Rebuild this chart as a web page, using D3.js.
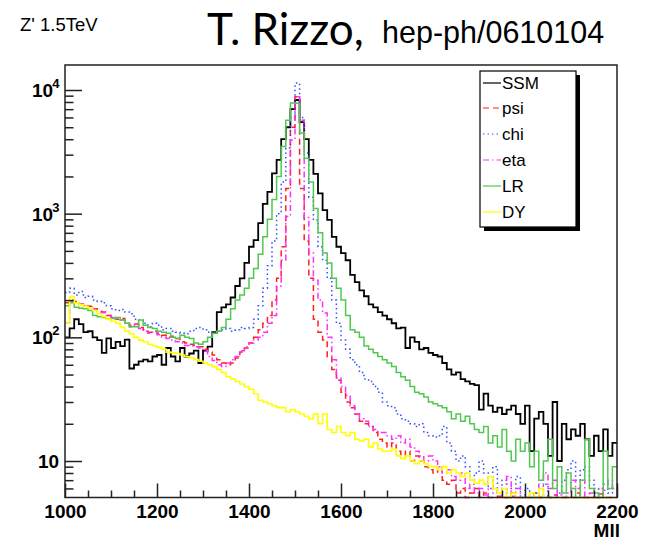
<!DOCTYPE html>
<html><head><meta charset="utf-8">
<script src="https://cdn.jsdelivr.net/npm/d3@7"></script>
<style>html,body{margin:0;padding:0;background:#fff;}</style>
</head><body>
<svg id="chart" width="647" height="540"></svg>
<script>
const binStart = 1000, binWidth = 10;
const seriesNames = ["SSM","psi","chi","eta","LR","DY"];
const xTickLabels = [1000,1200,1400,1600,1800,2000,2200];
const yTickLabels = [{v:10,b:"10",e:""},{v:100,b:"10",e:"2"},{v:1000,b:"10",e:"3"},{v:10000,b:"10",e:"4"}];

const SSM = [
100,118,140,128,110,112,100,95,75,98,
82,92,85,96,56,60,64,66,64,70,
72,60,82,70,64,82,70,74,78,62,
78,84,110,160,175,185,210,260,300,400,
540,610,840,1200,1500,2120,2720,4000,5000,7000,
8300,5500,4000,2720,2100,1460,1070,890,650,540,
480,420,320,280,240,215,185,175,160,150,
140,130,118,120,82,100,92,80,82,75,
72,70,62,55,50,52,46,44,42,41,
26,35,28,25,27,24,26,28,24,20,
28,12,22,25,20,11,30,10,20,15,
18,16,20,15,11,16,12,18,11,14];
const psi = [
190,200,195,185,180,178,170,165,160,150,
148,140,142,130,125,128,120,115,110,112,
108,104,100,102,98,92,90,88,86,84,
80,76,72,66,62,60,62,68,76,82,
90,100,115,130,150,200,300,540,1600,5000,
8800,1600,600,300,140,110,95,70,55,45,
36,30,27,24,21,20,19,17,15,14,
13,14,12,11,12,10,11,10,9,8.5,
8,9,7,6.5,7,5.5,6,4,5.5,6,
4,5.5,4,3,5.2,4,3,5.5,4,3,
4,3,5.5,3,4,3,5.3,3,4,3,
3,5.5,3,4,3,3,5.4,3,4,3];
const chi = [
230,250,220,235,210,215,200,195,190,180,
170,165,168,160,155,140,138,130,122,130,
125,115,118,112,110,108,107,112,118,120,
115,110,108,112,115,118,112,115,120,118,
120,140,180,250,380,600,1000,1800,3400,6000,
11400,6000,3100,1360,890,540,420,300,200,130,
95,80,66,60,52,46,44,40,36,30,
28,27,24,22,21,20,19,20,17,16,
15.6,16,19,14,12,10,11,9,7,8,
10,8,6,9,5.5,7,5,6,7.5,5,
6,5,5.5,4,6.5,5,4,5.5,7,8.5,
10,7,8.5,9,7,6,5,6.5,5.5,6];
const eta = [
130,195,190,185,180,175,170,160,158,150,
145,140,138,130,122,125,118,112,108,110,
105,100,98,95,92,90,86,85,84,82,
78,70,65,60,58,62,66,70,78,84,
90,95,100,110,130,150,260,420,950,3950,
8800,5700,930,480,290,200,157,100,66,47,
40,34,28,24,22,21,19,18,17,17,
16,15,16,14,15,13,12,11,10,11,
10,9,8,8.5,7.5,7,8,6,6.5,5.5,
6,5.3,7,5.5,6,5,7.5,5.2,6,5,
4,5,4,6.5,8,6,7,5.3,4,5.5,
7,6,7,4,5.5,4,6,5.8,7,6];
const LR = [
180,190,175,172,170,165,150,147,145,140,
142,145,138,130,122,122,138,125,120,118,
112,110,108,100,98,104,100,98,90,88,
92,100,108,112,120,140,170,200,220,250,
300,360,470,650,900,1300,2000,3500,5700,7850,
7800,4500,2800,1800,1100,700,480,400,300,250,
200,150,115,110,100,85,80,75,70,66,
62,58,52,48,45,40,36,35,33,30,
29,28,27,25,22,24,21,23,20,18,
17,19,14,16,13,18,12,10,15,12,
14,9,12,7,10,15,6,9,5.5,8,
6,5,7,15,6,5.5,5,12,6,9];
const DY = [
130,214,190,183,178,173,165,155,147,140,
135,130,120,112,107,100,95,92,88,85,
83,80,76,75,74,72,70,68,66,64,
62,60,58,55,52,48,46,44,42,40,
38,35,31,30,29,28,27,27,25,26,
25,24,23,22,24,20,24,18,17,19,
17,16,17,15,14.5,15,13,14,12.5,12,
12,12.5,11,10.5,11,10,9.5,10,9.5,9,
9,8.5,9,8,8.5,8,7.5,8,7,6.6,
7,6.5,7.5,6,5.5,6,5,5.5,4,4,
4,5.5,4.5,6,4,3.5,4,3,3,3,
3,3,3,3,3,3,3,3,3,3];

const seriesData = [SSM, psi, chi, eta, LR, DY];
const styles = [
  {c:"#000000", w:1.8, d:null},
  {c:"#ff2020", w:1.5, d:"6,4"},
  {c:"#3050ff", w:1.5, d:"1.5,3"},
  {c:"#ff30ff", w:1.5, d:"6,3,1.5,3"},
  {c:"#50c850", w:1.5, d:null},
  {c:"#ffff00", w:1.6, d:null}
];

const L = 65, R = 617, T = 65, B = 497.5;
const svg = d3.select("#chart");
const x = d3.scaleLinear().domain([1000, 2200]).range([L, R]);
const y = d3.scaleLog().domain([Math.pow(10,0.7049), Math.pow(10,4.2022)]).range([B, T]).clamp(true);

// titles
svg.append("text").attr("x",20).attr("y",31).attr("font-family","Liberation Sans, Arial, sans-serif")
  .attr("font-size",18.5).text("Z' 1.5TeV");
svg.append("text").attr("x",207).attr("y",45).attr("font-family","Lato, 'Open Sans', sans-serif")
  .attr("font-size",44).text("T. Rizzo,");
svg.append("text").attr("x",382).attr("y",43).attr("font-family","Liberation Sans, Arial, sans-serif")
  .attr("font-size",30.5).text("hep-ph/0610104");

// histograms
const g = svg.append("g");
seriesData.forEach((arr, k) => {
  let p = "";
  arr.forEach((v, i) => {
    const x0 = x(binStart + i*binWidth), x1 = x(binStart + (i+1)*binWidth);
    const yy = y(v);
    p += (i === 0 ? `M${x0},${yy}` : `V${yy}`) + `H${x1}`;
  });
  const st = styles[k];
  g.append("path").attr("d", p).attr("fill","none").attr("stroke", st.c)
    .attr("stroke-width", st.w).attr("stroke-dasharray", st.d);
});

// frame
svg.append("rect").attr("x",L).attr("y",T).attr("width",R-L).attr("height",B-T)
  .attr("fill","none").attr("stroke","#222").attr("stroke-width",1.5);

// x axis
const xMajor = d3.axisBottom(x).tickValues(xTickLabels).tickSizeInner(-14).tickSizeOuter(0).tickPadding(7).tickFormat(d3.format("d"));
const xMinor = d3.axisBottom(x).tickValues(d3.range(1050,2200,50).filter(v=>v%200!==0)).tickSizeInner(-7).tickSizeOuter(0).tickFormat("");
const gx1 = svg.append("g").attr("transform",`translate(0,${B})`).call(xMajor);
const gx2 = svg.append("g").attr("transform",`translate(0,${B})`).call(xMinor);
[gx1,gx2].forEach(a=>{a.select(".domain").remove(); a.selectAll("line").attr("stroke","#222").attr("stroke-width",1.5);});
gx1.selectAll("text").attr("font-family","Liberation Sans, Arial, sans-serif").attr("font-weight","bold")
  .attr("font-size",19).attr("fill","#000");
svg.append("text").attr("x",620).attr("y",537).attr("text-anchor","end")
  .attr("font-family","Liberation Sans, Arial, sans-serif").attr("font-weight","bold").attr("font-size",19).text("Mll");

// y axis
const minorVals = [];
[1,10,100,1000].forEach(d => { for (let m=2;m<=9;m++) { const v=d*m; if (v>=y.domain()[0] && v<=y.domain()[1]) minorVals.push(v); } });
const yMajor = d3.axisLeft(y).tickValues(yTickLabels.map(d=>d.v)).tickSizeInner(-17).tickSizeOuter(0).tickFormat("");
const yMinor = d3.axisLeft(y).tickValues(minorVals).tickSizeInner(-8.5).tickSizeOuter(0).tickFormat("");
const gy1 = svg.append("g").attr("transform",`translate(${L},0)`).call(yMajor);
const gy2 = svg.append("g").attr("transform",`translate(${L},0)`).call(yMinor);
[gy1,gy2].forEach(a=>{a.select(".domain").remove(); a.selectAll("line").attr("stroke","#222").attr("stroke-width",1.5);});
yTickLabels.forEach(d => {
  const t = svg.append("text").attr("y", y(d.v)+7).attr("font-family","Liberation Sans, Arial, sans-serif")
    .attr("font-weight","bold").attr("font-size",19).attr("fill","#000");
  if (d.e) {
    t.attr("x",32);
    t.append("tspan").text(d.b);
    t.append("tspan").attr("font-size",13).attr("dy",-9).attr("dx",-1).text(d.e);
  } else {
    t.attr("x",38).text(d.b);
  }
});

// legend
const lx = 480, ly = 71, lw = 96, lh = 156;
svg.append("rect").attr("x",lx+4).attr("y",ly+4).attr("width",lw).attr("height",lh).attr("fill","#000");
svg.append("rect").attr("x",lx).attr("y",ly).attr("width",lw).attr("height",lh).attr("fill","#fff")
  .attr("stroke","#000").attr("stroke-width",1.2);
const ly0 = [83,108,134,160,186,212];
seriesNames.forEach((n,k) => {
  const st = styles[k];
  svg.append("line").attr("x1",483).attr("x2",501).attr("y1",ly0[k]).attr("y2",ly0[k])
    .attr("stroke",st.c).attr("stroke-width",1.2).attr("stroke-dasharray",st.d);
  svg.append("text").attr("x",502).attr("y",ly0[k]+6).attr("font-family","Liberation Sans, Arial, sans-serif")
    .attr("font-size",17).text(n);
});
</script>
</body></html>
